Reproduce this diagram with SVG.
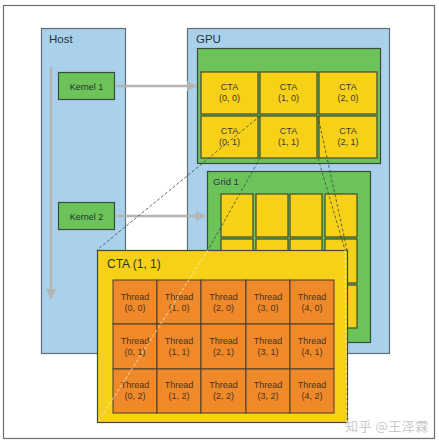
<svg xmlns="http://www.w3.org/2000/svg" width="439" height="444" viewBox="0 0 439 444">
<defs>
<style>
.frame{fill:#ffffff;stroke:#6a6f74;stroke-width:1.2}
.blue{fill:#a9d1ec;stroke:#5f6e78;stroke-width:1.2}
.green{fill:#6cc35a;stroke:#3c4a3c;stroke-width:1.2}
.yellow{fill:#f7d117;stroke:#3f4a30;stroke-width:1.2}
.orange{fill:#f0892a;stroke:#4a3a2a;stroke-width:1}
.lbl{font-family:"Liberation Sans",Arial,sans-serif;font-size:11.5px;fill:#2a3440}
.small{font-family:"Liberation Sans",Arial,sans-serif;font-size:9px;fill:#3a3a30;text-anchor:middle}
.thr{font-family:"Liberation Sans",Arial,sans-serif;font-size:9px;fill:#4a3420;text-anchor:middle}
.arrow{stroke:#b4b4b0;stroke-width:2.5;fill:none}
.dash{stroke:#3a4a3a;stroke-width:0.8;stroke-dasharray:3,2;fill:none}
.dashw{stroke:#f4f0d8;stroke-width:0.8;stroke-dasharray:3,2;fill:none}
</style>
<marker id="ah" viewBox="0 0 10 10" refX="9" refY="5" markerWidth="4" markerHeight="4" orient="auto" markerUnits="strokeWidth">
<path d="M0,0 L10,5 L0,10 Z" fill="#b4b4b0"/>
</marker>
</defs>
<rect x="3.5" y="5.5" width="431" height="433" class="frame"/>
<g id="host">
<rect x="41.5" y="28.5" width="84" height="325" class="blue"/>
<text x="49" y="43" class="lbl">Host</text>
</g>
<g id="gpu">
<rect x="187.5" y="28.5" width="202" height="325" class="blue"/>
<text x="196" y="43" class="lbl">GPU</text>
</g>
<g id="grid0">
<rect x="197.5" y="48.5" width="183" height="115" class="green"/>
<rect x="201" y="72" width="57" height="42" class="yellow"/>
<text x="229.5" y="90" class="small">CTA</text><text x="229.5" y="101" class="small">(0, 0)</text>
<rect x="260" y="72" width="57" height="42" class="yellow"/>
<text x="288.5" y="90" class="small">CTA</text><text x="288.5" y="101" class="small">(1, 0)</text>
<rect x="319" y="72" width="58" height="42" class="yellow"/>
<text x="348" y="90" class="small">CTA</text><text x="348" y="101" class="small">(2, 0)</text>
<rect x="201" y="116" width="57" height="42" class="yellow"/>
<text x="229.5" y="134" class="small">CTA</text><text x="229.5" y="145" class="small">(0, 1)</text>
<rect x="260" y="116" width="57" height="42" class="yellow"/>
<text x="288.5" y="134" class="small">CTA</text><text x="288.5" y="145" class="small">(1, 1)</text>
<rect x="319" y="116" width="58" height="42" class="yellow"/>
<text x="348" y="134" class="small">CTA</text><text x="348" y="145" class="small">(2, 1)</text>
</g>
<g id="grid1">
<rect x="207.5" y="171.5" width="163" height="171" class="green"/>
<text x="213" y="185" class="lbl" style="font-size:9.5px">Grid 1</text>
<rect x="221" y="194" width="32" height="43" class="yellow"/>
<rect x="256" y="194" width="32" height="43" class="yellow"/>
<rect x="290" y="194" width="32" height="43" class="yellow"/>
<rect x="325" y="194" width="32" height="43" class="yellow"/>
<rect x="221" y="239" width="32" height="44" class="yellow"/>
<rect x="256" y="239" width="32" height="44" class="yellow"/>
<rect x="290" y="239" width="32" height="44" class="yellow"/>
<rect x="325" y="239" width="32" height="44" class="yellow"/>
<rect x="221" y="285" width="32" height="43" class="yellow"/>
<rect x="256" y="285" width="32" height="43" class="yellow"/>
<rect x="290" y="285" width="32" height="43" class="yellow"/>
<rect x="325" y="285" width="32" height="43" class="yellow"/>
</g>
<g id="kernel1">
<rect x="58.5" y="72.5" width="56" height="27" class="green"/>
<text x="86.5" y="89.5" class="small" style="fill:#26302a">Kernel 1</text>
</g>
<g id="kernel2">
<rect x="58.5" y="202.5" width="56" height="27" class="green"/>
<text x="86.5" y="219.5" class="small" style="fill:#26302a">Kernel 2</text>
</g>
<g id="connectors">
<line x1="51" y1="67" x2="51" y2="298" class="arrow" marker-end="url(#ah)"/>
<line x1="116" y1="86" x2="196" y2="86" class="arrow" marker-end="url(#ah)"/>
<line x1="116" y1="216" x2="205" y2="216" class="arrow" marker-end="url(#ah)"/>
<line x1="260" y1="116" x2="97" y2="250" class="dash"/>
<line x1="260" y1="158" x2="208" y2="250" class="dash"/>
<line x1="318" y1="116" x2="347" y2="250" class="dash"/>
<line x1="318" y1="158" x2="345" y2="250" class="dash"/>
</g>
<g id="cta11">
<rect x="97.5" y="250.5" width="250" height="172" class="yellow"/>
<text x="107" y="268" class="lbl" style="font-size:12px">CTA (1, 1)</text>
<g id="threads">
<rect x="113" y="280" width="44" height="44" class="orange"/>
<rect x="157" y="280" width="44" height="44" class="orange"/>
<rect x="201" y="280" width="45" height="44" class="orange"/>
<rect x="246" y="280" width="44" height="44" class="orange"/>
<rect x="290" y="280" width="44" height="44" class="orange"/>
<rect x="113" y="324" width="44" height="45" class="orange"/>
<rect x="157" y="324" width="44" height="45" class="orange"/>
<rect x="201" y="324" width="45" height="45" class="orange"/>
<rect x="246" y="324" width="44" height="45" class="orange"/>
<rect x="290" y="324" width="44" height="45" class="orange"/>
<rect x="113" y="369" width="44" height="44" class="orange"/>
<rect x="157" y="369" width="44" height="44" class="orange"/>
<rect x="201" y="369" width="45" height="44" class="orange"/>
<rect x="246" y="369" width="44" height="44" class="orange"/>
<rect x="290" y="369" width="44" height="44" class="orange"/>
<text x="135" y="300" class="thr">Thread</text><text x="135" y="311" class="thr">(0, 0)</text>
<text x="179" y="300" class="thr">Thread</text><text x="179" y="311" class="thr">(1, 0)</text>
<text x="223.5" y="300" class="thr">Thread</text><text x="223.5" y="311" class="thr">(2, 0)</text>
<text x="268" y="300" class="thr">Thread</text><text x="268" y="311" class="thr">(3, 0)</text>
<text x="312" y="300" class="thr">Thread</text><text x="312" y="311" class="thr">(4, 0)</text>
<text x="135" y="344" class="thr">Thread</text><text x="135" y="355" class="thr">(0, 1)</text>
<text x="179" y="344" class="thr">Thread</text><text x="179" y="355" class="thr">(1, 1)</text>
<text x="223.5" y="344" class="thr">Thread</text><text x="223.5" y="355" class="thr">(2, 1)</text>
<text x="268" y="344" class="thr">Thread</text><text x="268" y="355" class="thr">(3, 1)</text>
<text x="312" y="344" class="thr">Thread</text><text x="312" y="355" class="thr">(4, 1)</text>
<text x="135" y="388" class="thr">Thread</text><text x="135" y="399" class="thr">(0, 2)</text>
<text x="179" y="388" class="thr">Thread</text><text x="179" y="399" class="thr">(1, 2)</text>
<text x="223.5" y="388" class="thr">Thread</text><text x="223.5" y="399" class="thr">(2, 2)</text>
<text x="268" y="388" class="thr">Thread</text><text x="268" y="399" class="thr">(3, 2)</text>
<text x="312" y="388" class="thr">Thread</text><text x="312" y="399" class="thr">(4, 2)</text>
</g>
<line x1="208" y1="250" x2="98" y2="422" class="dashw"/>
<line x1="345" y1="250" x2="347" y2="422" class="dashw"/>
</g>
<text x="345" y="431" style="font-family:'Noto Sans CJK SC',sans-serif;font-size:13px;letter-spacing:0.5px;fill:#c8c8c8">知乎 @王泽霖</text>
</svg>
